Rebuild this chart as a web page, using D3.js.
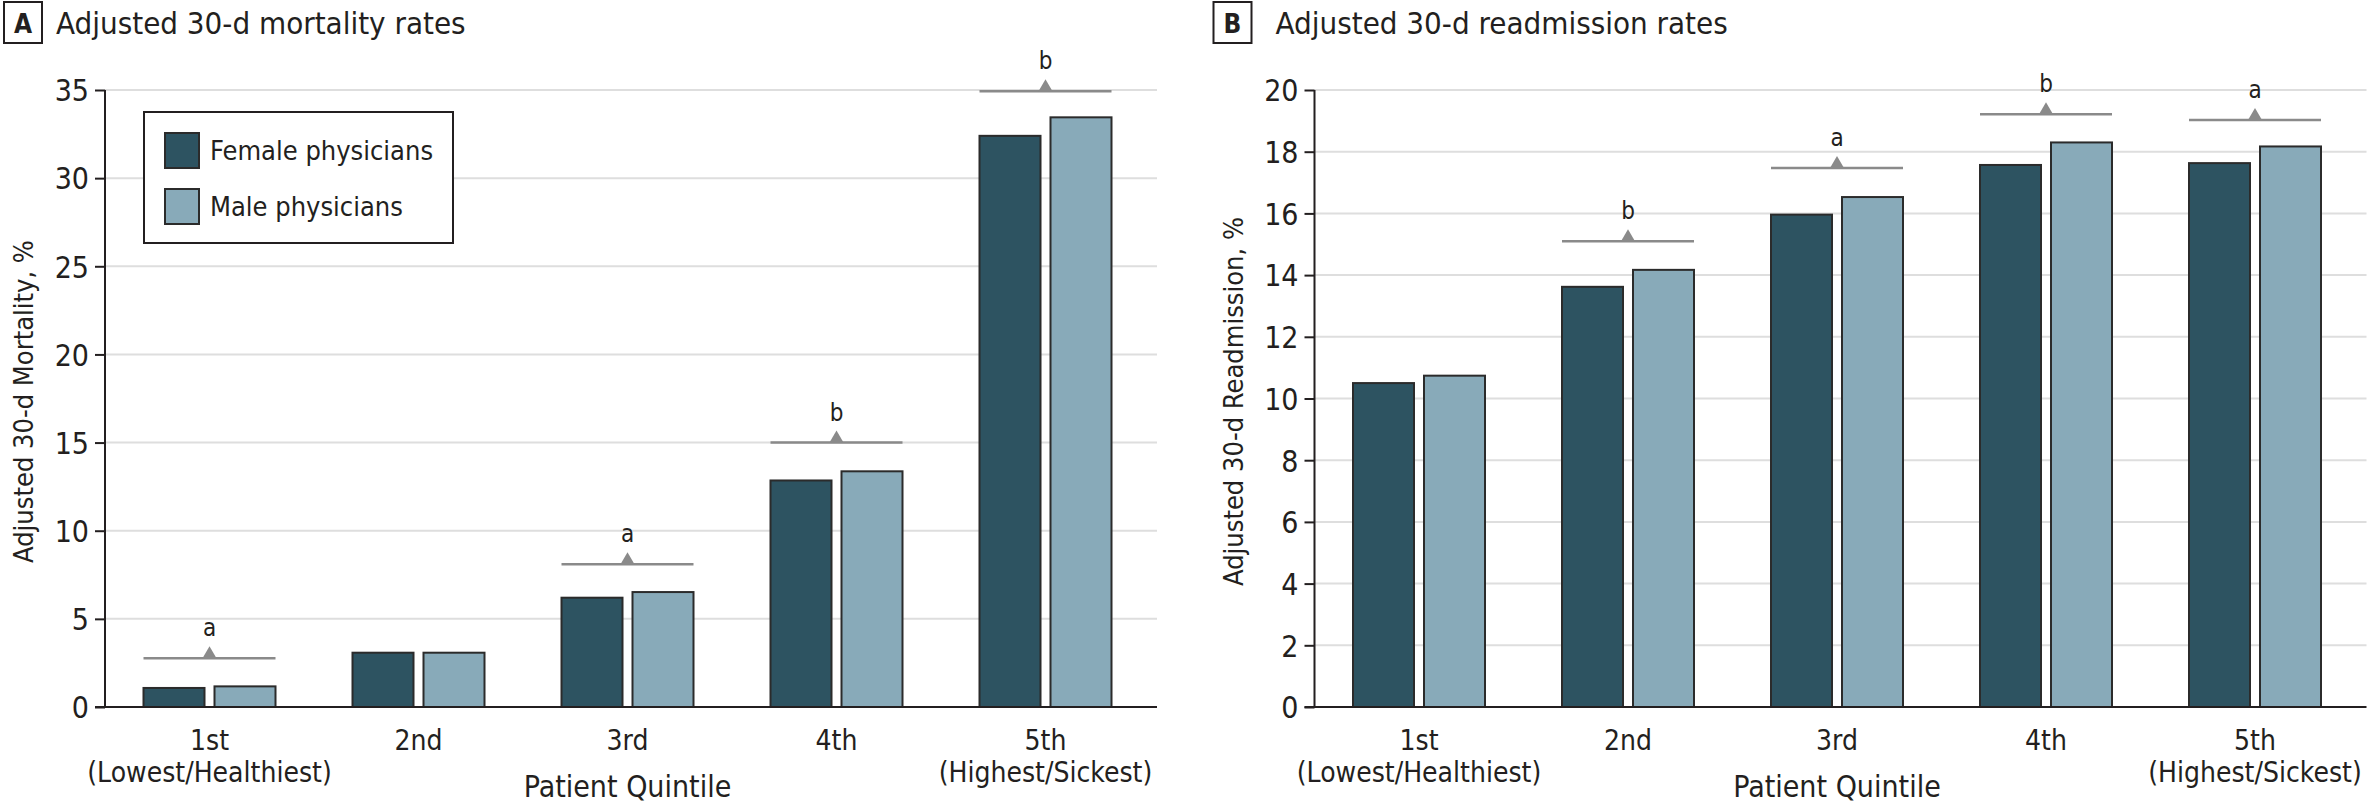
<!DOCTYPE html>
<html>
<head>
<meta charset="utf-8">
<script src="https://cdn.jsdelivr.net/npm/d3@7/dist/d3.min.js"></script>
<style>
  body { margin: 0; background: #fff; }
  svg text { font-family: "Liberation Sans Narrow", "DejaVu Sans Condensed", "Open Sans", sans-serif; fill: #231f20; }
</style>
</head>
<body>
<svg id="chart" width="2367" height="803"></svg>
<script>
// quintile categories
var quintiles = ['1st', '2nd', '3rd', '4th', '5th'];
var quintileSub = ['(Lowest/Healthiest)', '', '', '', '(Highest/Sickest)'];
var seriesNames = ['Female physicians', 'Male physicians'];

// panel A: adjusted 30-d mortality, %
var mortalityFemale = [1.08, 3.08, 6.2, 12.85, 32.4];
var mortalityMale = [1.17, 3.08, 6.52, 13.37, 33.45];
var mortalitySig = [2.76, null, 8.1, 15.0, 34.93];
var mortalitySigLabel = ['a', null, 'a', 'b', 'b'];
var mortalityTicks = [0, 5, 10, 15, 20, 25, 30, 35];

// panel B: adjusted 30-d readmission, %
var readmitFemale = [10.5, 13.62, 15.96, 17.57, 17.63];
var readmitMale = [10.74, 14.17, 16.53, 18.3, 18.17];
var readmitSig = [null, 15.1, 17.47, 19.21, 19.03];
var readmitSigLabel = [null, 'b', 'a', 'b', 'a'];
var readmitTicks = [0, 2, 4, 6, 8, 10, 12, 14, 16, 18, 20];

var _colors = ['#2d5361', '#88aab9'];

var svg = d3.select('#chart');

var drawPanel = function(opt){
    var g = svg.append('g').attr('transform', 'translate(' + opt.dx + ',0)');
    var left = 105, right = 1157, top = 90, bottom = 707;

    var y = d3.scaleLinear().domain([0, opt.max]).range([bottom, top]);
    var x = d3.scaleBand().domain(quintiles).range([left, left + 5 * 209]).padding(0);
    var barW = 61, gap = 10;

    // panel letter + title
    g.append('rect').attr('x', 4).attr('y', 2).attr('width', 38).attr('height', 41)
        .attr('fill', 'none').attr('stroke', '#231f20').attr('stroke-width', 2);
    g.append('text').attr('x', 23).attr('y', 33).attr('text-anchor', 'middle')
        .style('font-size', '26px').style('font-weight', 'bold').text(opt.letter);
    g.append('text').attr('x', opt.titleX).attr('y', 34).style('font-size', '31px').text(opt.title);

    // gridlines
    g.append('g').selectAll('line').data(opt.ticks.filter(function(d){ return d > 0; }))
        .enter().append('line')
        .attr('x1', left).attr('x2', right)
        .attr('y1', function(d){ return y(d); }).attr('y2', function(d){ return y(d); })
        .attr('stroke', '#dedede').attr('stroke-width', 2);

    // y axis
    var yAxis = d3.axisLeft(y).tickValues(opt.ticks).tickSize(10).tickPadding(6);
    var ya = g.append('g').attr('transform', 'translate(' + left + ',0)').call(yAxis);
    ya.select('.domain').attr('stroke', '#231f20').attr('stroke-width', 2).attr('d', 'M0,' + top + 'V' + bottom);
    ya.selectAll('.tick line').attr('stroke', '#231f20').attr('stroke-width', 2);
    ya.selectAll('.tick text').style('font-size', '30px').attr('fill', '#231f20').attr('dy', '0.36em');

    // bars
    var groups = g.append('g').selectAll('g').data(quintiles).enter().append('g')
        .attr('transform', function(d){ return 'translate(' + (x(d) + x.bandwidth() / 2) + ',0)'; });
    [opt.female, opt.male].forEach(function(vals, si){
        groups.append('rect')
            .attr('x', si === 0 ? -gap / 2 - barW : gap / 2)
            .attr('y', function(d, i){ return y(vals[i]); })
            .attr('width', barW)
            .attr('height', function(d, i){ return y(0) - y(vals[i]); })
            .attr('fill', _colors[si]).attr('stroke', '#2b2b2b').attr('stroke-width', 2);
    });

    // significance markers
    groups.each(function(d, i){
        if (opt.sig[i] == null) return;
        var s = d3.select(this), sy = y(opt.sig[i]);
        s.append('line').attr('x1', -gap / 2 - barW).attr('x2', gap / 2 + barW)
            .attr('y1', sy).attr('y2', sy).attr('stroke', '#8a8a8a').attr('stroke-width', 2.5);
        s.append('path').attr('d', 'M-7,' + sy + 'L0,' + (sy - 12) + 'L7,' + sy + 'Z').attr('fill', '#8a8a8a');
        s.append('text').attr('x', 0).attr('y', sy - 22).attr('text-anchor', 'middle')
            .style('font-size', '24px').text(opt.sigLabel[i]);
    });

    // baseline
    g.append('line').attr('x1', left - 10).attr('x2', right).attr('y1', bottom).attr('y2', bottom)
        .attr('stroke', '#231f20').attr('stroke-width', 2);

    // x labels
    groups.append('text').attr('y', 750).attr('text-anchor', 'middle').style('font-size', '28px')
        .text(function(d){ return d; });
    groups.append('text').attr('y', 782).attr('text-anchor', 'middle').style('font-size', '28px')
        .text(function(d, i){ return quintileSub[i]; });
    g.append('text').attr('x', x('3rd') + x.bandwidth() / 2).attr('y', 797).attr('text-anchor', 'middle')
        .style('font-size', '30px').text('Patient Quintile');

    // y title
    g.append('text').attr('transform', 'translate(33,' + ((top + bottom) / 2 + 3) + ') rotate(-90)')
        .attr('text-anchor', 'middle').style('font-size', '27px').text(opt.yTitle);

    // legend
    if (opt.legend) {
        var lg = g.append('g');
        lg.append('rect').attr('x', 144).attr('y', 112).attr('width', 309).attr('height', 131)
            .attr('fill', '#fff').attr('stroke', '#231f20').attr('stroke-width', 2);
        seriesNames.forEach(function(n, i){
            var ly = 133 + i * 56;
            lg.append('rect').attr('x', 165).attr('y', ly).attr('width', 34).attr('height', 35)
                .attr('fill', _colors[i]).attr('stroke', '#2b2b2b').attr('stroke-width', 2);
            lg.append('text').attr('x', 210).attr('y', ly + 27).style('font-size', '27px').text(n);
        });
    }
};

drawPanel({ dx: 0, letter: 'A', title: 'Adjusted 30-d mortality rates', titleX: 56, yTitle: 'Adjusted 30-d Mortality, %',
    max: 35, ticks: mortalityTicks, female: mortalityFemale, male: mortalityMale,
    sig: mortalitySig, sigLabel: mortalitySigLabel, legend: true });
drawPanel({ dx: 1209.5, letter: 'B', title: 'Adjusted 30-d readmission rates', titleX: 66, yTitle: 'Adjusted 30-d Readmission, %',
    max: 20, ticks: readmitTicks, female: readmitFemale, male: readmitMale,
    sig: readmitSig, sigLabel: readmitSigLabel, legend: false });
</script>
</body>
</html>
